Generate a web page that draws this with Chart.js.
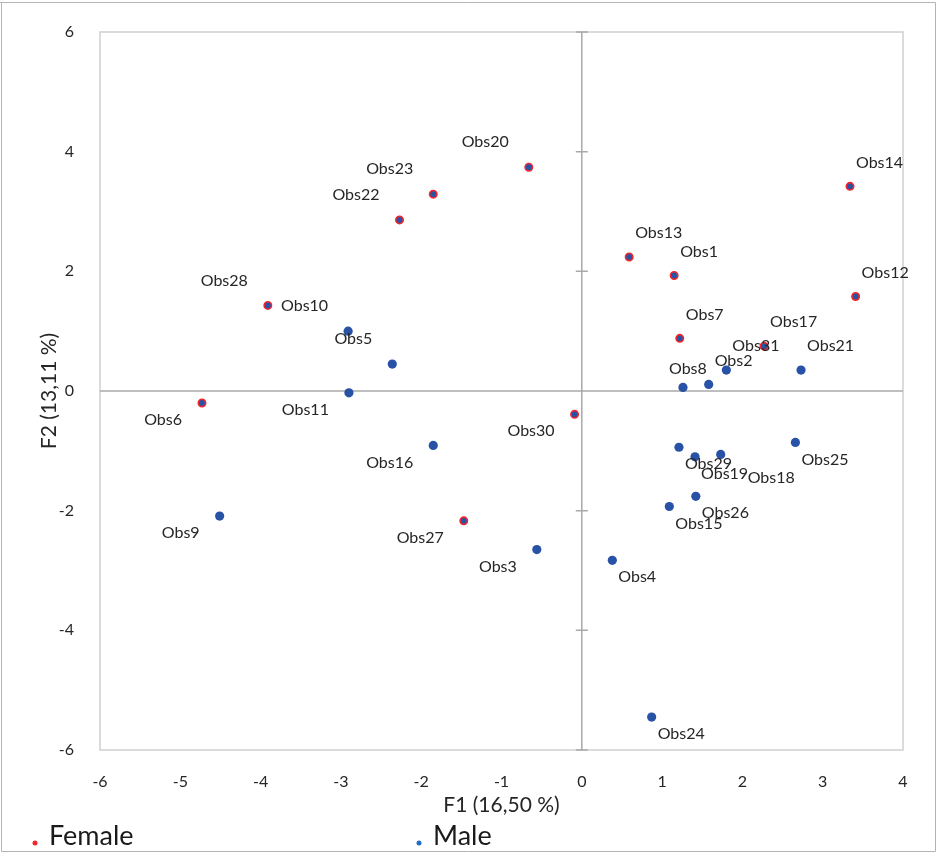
<!DOCTYPE html>
<html><head><meta charset="utf-8">
<script src="https://cdn.jsdelivr.net/npm/chart.js@4/dist/chart.umd.min.js"></script>
<style>html,body{margin:0;padding:0;background:#fff;overflow:hidden}#wrap{width:937px;height:855px;position:relative}</style>
</head><body><div id="wrap"><canvas id="c" width="937" height="855"></canvas></div>
<script>
// ---- data ----
const femaleNames = ['Obs1','Obs6','Obs7','Obs12','Obs13','Obs14','Obs17','Obs20','Obs22','Obs23','Obs27','Obs28','Obs30'];
const femaleX = [1.15, -4.73, 1.22, 3.41, 0.59, 3.34, 2.27, -0.66, -2.27, -1.85, -1.47, -3.91, -0.09];
const femaleY = [1.93, -0.20, 0.88, 1.58, 2.24, 3.42, 0.75, 3.74, 2.86, 3.29, -2.17, 1.43, -0.39];

const maleNames = ['Obs2','Obs3','Obs4','Obs5','Obs8','Obs9','Obs10','Obs11','Obs15','Obs16','Obs18','Obs19','Obs21','Obs24','Obs25','Obs26','Obs29','Obs31'];
const maleX = [1.58, -0.56, 0.38, -2.36, 1.26, -4.51, -2.91, -2.90, 1.09, -1.85, 1.73, 1.41, 2.73, 0.87, 2.66, 1.42, 1.21, 1.80];
const maleY = [0.11, -2.65, -2.83, 0.45, 0.06, -2.09, 1.00, -0.03, -1.93, -0.91, -1.06, -1.10, 0.35, -5.45, -0.86, -1.76, -0.94, 0.35];

const xTickValues = [-6, -5, -4, -3, -2, -1, 0, 1, 2, 3, 4];
const yTickValues = [-6, -4, -2, 0, 2, 4, 6];
const xTitle = 'F1 (16,50 %)';
const yTitle = 'F2 (13,11 %)';
const seriesNames = ['Female', 'Male'];

// ---- label placement (style only) ----
const labelPlacement = {
  Obs20:'ul', Obs23:'ul', Obs22:'ul', Obs28:'ul', Obs10:'ul', Obs5:'ul',
  Obs13:'ur', Obs1:'ur', Obs14:'ur', Obs12:'ur', Obs7:'ur', Obs17:'ur', Obs31:'ur', Obs21:'ur', Obs2:'ur',
  Obs11:'ll', Obs6:'ll', Obs16:'ll', Obs9:'ll', Obs27:'ll', Obs3:'ll', Obs30:'ll',
  Obs4:'lr', Obs24:'lr', Obs29:'lr', Obs19:'lr', Obs25:'lr', Obs26:'lr', Obs15:'lr',
  Obs8:'top', Obs18:'lrfar'
};
const placeDefs = {
  ul:{dx:-20, dy:-25, align:'right'},
  ur:{dx:6, dy:-24, align:'left'},
  ll:{dx:-20, dy:17, align:'right'},
  lr:{dx:6, dy:17, align:'left'},
  top:{dx:-14, dy:-19, align:'left'},
  lrfar:{dx:27, dy:23, align:'left'}
};

const RED = '#f2262c';
const BLUE = '#2752a6';
const FONT = 'Lato, "Open Sans", sans-serif';
const TEXT = '#262626';

const toPoints = (xs, ys, names) => xs.map((x, i) => ({x: x, y: ys[i], name: names[i]}));

const decoPlugin = {
  id: 'deco',
  beforeDatasetsDraw(chart) {
    const {ctx, chartArea: a, scales: {x, y}} = chart;
    ctx.save();
    // plot border
    ctx.strokeStyle = '#d0d0d0';
    ctx.lineWidth = 1.5;
    ctx.strokeRect(a.left, a.top, a.right - a.left, a.bottom - a.top);
    // zero lines
    const x0 = x.getPixelForValue(0), y0 = y.getPixelForValue(0);
    ctx.strokeStyle = '#a9a9a9';
    ctx.lineWidth = 1.5;
    ctx.beginPath();
    ctx.moveTo(a.left, y0); ctx.lineTo(a.right, y0);
    ctx.moveTo(x0, a.top); ctx.lineTo(x0, a.bottom);
    yTickValues.forEach(v => { const p = y.getPixelForValue(v); ctx.moveTo(x0 - 6, p); ctx.lineTo(x0 + 6, p); });
    ctx.stroke();
    ctx.restore();
  },
  afterDatasetsDraw(chart) {
    const {ctx} = chart;
    ctx.save();
    ctx.font = '16px ' + FONT;
    ctx.fillStyle = TEXT;
    ctx.textBaseline = 'middle';
    chart.data.datasets.forEach((ds, di) => {
      const meta = chart.getDatasetMeta(di);
      meta.data.forEach((el, i) => {
        const name = ds.data[i].name;
        const p = placeDefs[labelPlacement[name] || 'ur'];
        ctx.textAlign = p.align;
        ctx.fillText(name, el.x + p.dx, el.y + p.dy);
      });
    });
    ctx.restore();
  },
  afterDraw(chart) {
    const {ctx} = chart;
    ctx.save();
    // outer frame
    ctx.strokeStyle = '#b4b4b4';
    ctx.lineWidth = 1;
    ctx.beginPath();
    ctx.moveTo(0, 2.5); ctx.lineTo(935.5, 2.5); ctx.lineTo(935.5, 851.5); ctx.lineTo(1.5, 851.5);
    ctx.stroke();
    ctx.strokeStyle = '#d9a8a8';
    ctx.beginPath(); ctx.moveTo(1.5, 2.5); ctx.lineTo(1.5, 851.5); ctx.stroke();
    // legend
    const items = [{x: 35, color: RED}, {x: 419, color: '#1f6fc0'}];
    ctx.font = '27px ' + FONT;
    ctx.textAlign = 'left';
    ctx.textBaseline = 'middle';
    items.forEach((it, i) => {
      ctx.beginPath();
      ctx.fillStyle = it.color;
      ctx.arc(it.x, 843, 2.5, 0, Math.PI * 2);
      ctx.fill();
      ctx.fillStyle = '#1a1a1a';
      ctx.fillText(chart.data.datasets[i].label, it.x + 14, 836);
    });
    ctx.restore();
  }
};

new Chart(document.getElementById('c'), {
  type: 'scatter',
  data: {
    datasets: [
      { label: seriesNames[0], data: toPoints(femaleX, femaleY, femaleNames),
        backgroundColor: BLUE, borderColor: RED, borderWidth: 1.6, pointRadius: 3.7, pointHoverRadius: 3.7 },
      { label: seriesNames[1], data: toPoints(maleX, maleY, maleNames),
        backgroundColor: BLUE, borderColor: BLUE, borderWidth: 0, pointRadius: 4.6, pointHoverRadius: 4.6 }
    ]
  },
  options: {
    responsive: false, animation: false, devicePixelRatio: 1,
    events: [],
    layout: { padding: { left: 0, top: 32, right: 34, bottom: 0 } },
    plugins: { legend: { display: false }, tooltip: { enabled: false } },
    scales: {
      x: {
        type: 'linear', min: -6, max: 4,
        afterBuildTicks: s => { s.ticks = xTickValues.map(v => ({value: v})); },
        afterFit: s => { s.height = 105; },
        grid: { display: false }, border: { display: false },
        ticks: { padding: 14, color: TEXT, font: { family: FONT, size: 16 }, callback: v => String(v), maxRotation: 0, autoSkip: false },
        title: { display: true, text: xTitle, color: TEXT, font: { family: FONT, size: 21 }, padding: { top: 0, bottom: 37 } }
      },
      y: {
        type: 'linear', min: -6, max: 6,
        afterBuildTicks: s => { s.ticks = yTickValues.map(v => ({value: v})); },
        afterFit: s => { s.width = 100; },
        grid: { display: false }, border: { display: false },
        ticks: { padding: 18, color: TEXT, font: { family: FONT, size: 16 }, callback: v => String(v), autoSkip: false },
        title: { display: true, text: yTitle, color: TEXT, font: { family: FONT, size: 21 }, padding: { top: 37, bottom: 0 } }
      }
    }
  },
  plugins: [decoPlugin]
});
</script>
</body></html>
